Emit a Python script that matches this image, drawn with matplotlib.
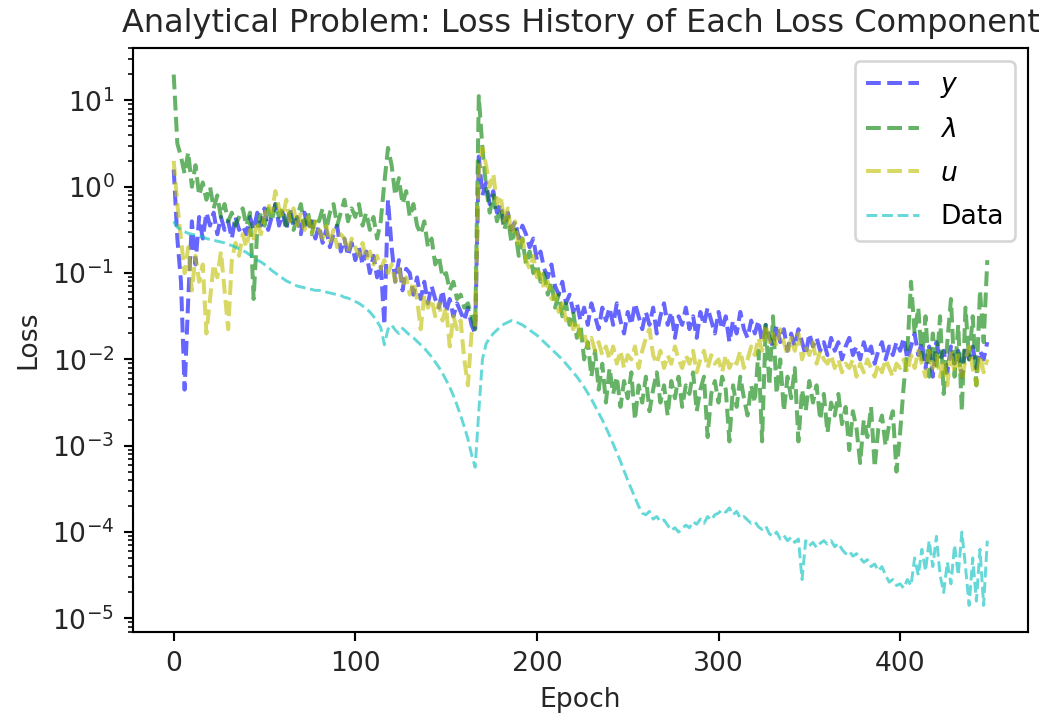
import numpy as np
import matplotlib
matplotlib.use('Agg')
import matplotlib.pyplot as plt

epochs = np.arange(0, 450, 2)

y_log = [0.2, -0.6, -1.1, -2.35, -1.3, -0.4, -0.9, -0.35, -0.6, -0.3,
         -0.45, -0.3, -0.55, -0.35, -0.5, -0.4, -0.6, -0.35, -0.5, -0.45,
         -0.55, -0.35, -0.5, -0.3, -0.45, -0.25, -0.5, -0.35, -0.2, -0.45,
         -0.3, -0.5, -0.25, -0.45, -0.35, -0.55, -0.3, -0.5, -0.4, -0.6,
         -0.45, -0.65, -0.5, -0.7, -0.55, -0.45, -0.75, -0.6, -0.8, -0.65,
         -0.85, -0.7, -0.9, -0.75, -1.0, -0.8, -1.05, -0.9, -1.6, -0.15,
         -0.7, -1.1, -0.85, -1.2, -0.95, -1.0, -1.25, -1.05, -1.3, -1.1,
         -1.35, -1.15, -1.3, -1.4, -1.2, -1.45, -1.3, -1.5, -1.35, -1.45,
         -1.55, -1.4, -1.6, -1.7, 0.35, -0.1, 0.05, -0.2, -0.05, -0.3,
         -0.2, -0.45, -0.3, -0.5, -0.4, -0.6, -0.45, -0.55, -0.7, -0.6,
         -0.85, -0.75, -0.95, -1.05, -0.9, -1.15, -1.25, -1.1, -1.35, -1.25,
         -1.45, -1.35, -1.55, -1.4, -1.6, -1.35, -1.5, -1.65, -1.4, -1.55,
         -1.4, -1.6, -1.35, -1.55, -1.7, -1.45, -1.6, -1.35, -1.5, -1.65,
         -1.45, -1.6, -1.4, -1.7, -1.5, -1.35, -1.6, -1.45, -1.75, -1.5,
         -1.6, -1.4, -1.65, -1.5, -1.75, -1.45, -1.6, -1.4, -1.55, -1.7,
         -1.45, -1.65, -1.5, -1.8, -1.55, -1.7, -1.45, -1.65, -1.75, -1.55,
         -1.7, -1.55, -1.8, -1.6, -1.75, -1.85, -1.6, -1.8, -1.65, -1.9,
         -1.7, -1.85, -1.65, -1.8, -1.95, -1.7, -1.85, -1.75, -1.9, -1.8,
         -1.95, -1.75, -1.9, -1.8, -2.0, -1.85, -1.75, -1.95, -1.85, -2.0,
         -1.8, -1.95, -1.85, -2.05, -1.9, -1.8, -2.0, -1.85, -1.95, -1.8,
         -1.9, -1.75, -2.0, -1.85, -1.7, -1.95, -1.8, -2.1, -1.85, -2.2,
         -1.8, -2.0, -1.9, -2.15, -1.85, -2.05, -1.9, -2.2, -1.85, -2.0,
         -1.85, -2.1, -1.9, -2.0, -1.8]

lam_log = [1.3, 0.5, 0.35, 0.15, 0.4, 0.0, 0.25, -0.1, 0.05, -0.15,
           0.0, -0.25, -0.1, -0.35, -0.2, -0.4, -0.3, -0.45, -0.35, -0.25,
           -0.45, -0.3, -1.3, -0.5, -0.3, -0.45, -0.25, -0.4, -0.2, -0.35,
           -0.25, -0.45, -0.3, -0.5, -0.35, -0.2, -0.45, -0.3, -0.55, -0.35,
           -0.4, -0.25, -0.5, -0.3, -0.2, -0.45, -0.3, -0.15, -0.4, -0.25,
           -0.35, -0.2, -0.45, -0.3, -0.5, -0.35, -0.6, -0.4, 0.05, 0.45,
           0.25, -0.1, 0.1, -0.2, -0.05, -0.35, -0.2, -0.45, -0.55, -0.4,
           -0.7, -0.6, -0.9, -0.8, -1.05, -1.0, -1.2, -1.1, -1.3, -1.25,
           -1.4, -1.35, -1.5, -1.65, 1.05, 0.45, 0.0, -0.3, -0.1, -0.4,
           -0.25, -0.5, -0.35, -0.65, -0.5, -0.8, -0.6, -0.9, -0.75, -1.0,
           -0.9, -1.1, -1.0, -1.25, -1.1, -1.4, -1.25, -1.5, -1.35, -1.6,
           -1.45, -1.75, -1.6, -2.0, -1.8, -2.2, -1.9, -2.35, -2.05, -2.5,
           -2.1, -2.4, -2.2, -2.55, -2.25, -2.45, -2.15, -2.7, -2.3, -2.5,
           -2.2, -2.6, -2.35, -2.15, -2.5, -2.3, -2.65, -2.25, -2.45, -2.2,
           -2.55, -2.3, -2.4, -2.15, -2.6, -2.35, -2.2, -2.9, -2.4, -2.25,
           -2.5, -2.2, -2.35, -2.95, -2.3, -2.55, -2.2, -2.45, -2.65, -2.3,
           -2.5, -1.9, -2.95, -1.6, -2.3, -1.5, -2.4, -2.0, -2.6, -2.2,
           -2.45, -2.1, -2.95, -2.35, -2.6, -2.25, -2.5, -2.3, -2.7, -2.4,
           -2.85, -2.5, -2.65, -2.4, -2.75, -2.55, -3.05, -2.6, -2.8, -3.2,
           -2.7, -2.9, -2.55, -3.25, -2.8, -2.65, -3.0, -2.75, -2.6, -3.3,
           -2.85, -2.3, -1.9, -1.1, -1.7, -1.4, -2.0, -1.5, -2.2, -1.7,
           -2.1, -1.5, -2.4, -1.8, -1.3, -2.2, -1.6, -2.6, -1.4, -2.0,
           -1.5, -2.3, -1.2, -1.8, -0.85]

u_log = [0.3, -0.2, -0.6, -1.0, -0.7, -1.2, -0.8, -1.1, -0.9, -1.7,
         -1.3, -0.9, -1.05, -0.75, -1.2, -1.65, -0.85, -0.65, -0.8, -0.55,
         -0.7, -0.5, -0.6, -0.4, -0.55, -0.35, -0.2, -0.3, -0.05, -0.25,
         -0.35, -0.15, -0.4, -0.25, -0.45, -0.3, -0.5, -0.35, -0.55, -0.4,
         -0.5, -0.6, -0.45, -0.65, -0.5, -0.7, -0.55, -0.6, -0.75, -0.6,
         -0.7, -0.8, -0.65, -0.85, -0.75, -0.9, -0.8, -0.95, -0.85, -1.0,
         -0.9, -1.1, -0.95, -1.15, -1.05, -1.25, -1.1, -1.3, -1.65, -1.25,
         -1.4, -1.3, -1.5, -1.35, -1.55, -1.4, -1.85, -1.5, -1.65, -1.55,
         -2.0, -2.3, -1.7, -1.6, 0.2, 0.45, 0.25, 0.0, 0.15, -0.2,
         -0.1, -0.4, -0.25, -0.55, -0.4, -0.7, -0.6, -0.85, -0.95, -0.8,
         -1.05, -0.95, -1.2, -1.1, -1.3, -1.25, -1.45, -1.35, -1.55, -1.5,
         -1.65, -1.55, -1.75, -1.7, -1.85, -1.75, -1.9, -1.8, -1.95, -1.85,
         -2.0, -1.85, -2.05, -1.9, -2.1, -1.95, -2.0, -1.85, -2.1, -1.9,
         -1.75, -1.65, -1.95, -2.05, -1.9, -2.1, -1.95, -2.05, -1.85, -2.0,
         -2.1, -1.95, -2.05, -1.9, -2.15, -2.0, -1.9, -2.1, -1.95, -2.05,
         -2.0, -2.15, -1.95, -2.1, -2.0, -2.05, -1.9, -2.1, -2.0, -1.85,
         -1.95, -1.75, -1.9, -1.6, -1.8, -1.7, -1.85, -1.65, -1.8, -1.95,
         -1.75, -1.9, -1.7, -2.0, -1.85, -1.95, -1.8, -2.05, -1.9, -2.0,
         -2.05, -1.95, -2.1, -2.0, -2.15, -2.05, -2.1, -2.0, -2.2, -2.05,
         -2.15, -2.0, -2.1, -2.2, -2.05, -2.15, -2.0, -2.1, -2.2, -2.05,
         -2.1, -2.0, -2.15, -1.95, -2.1, -1.9, -2.05, -2.2, -1.9, -2.1,
         -1.95, -2.2, -2.0, -2.3, -1.9, -2.15, -1.95, -2.25, -2.0, -1.85,
         -2.1, -2.3, -1.95, -2.15, -2.0]

data_log = [-0.4, -0.47, -0.5, -0.52, -0.54, -0.55, -0.56, -0.57, -0.58, -0.6,
            -0.61, -0.62, -0.63, -0.64, -0.65, -0.67, -0.68, -0.7, -0.72, -0.74,
            -0.76, -0.79, -0.82, -0.85, -0.87, -0.9, -0.93, -0.97, -1.0, -1.03,
            -1.06, -1.09, -1.11, -1.13, -1.15, -1.16, -1.17, -1.18, -1.19, -1.2,
            -1.2, -1.21, -1.22, -1.23, -1.24, -1.25, -1.26, -1.28, -1.29, -1.31,
            -1.33, -1.35, -1.38, -1.41, -1.45, -1.5, -1.56, -1.63, -1.83, -1.65,
            -1.6, -1.66, -1.7, -1.64, -1.68, -1.72, -1.75, -1.79, -1.83, -1.87,
            -1.92, -1.97, -2.03, -2.09, -2.16, -2.24, -2.32, -2.42, -2.53, -2.65,
            -2.78, -2.92, -3.1, -3.25, -2.6, -2.0, -1.82, -1.75, -1.7, -1.66,
            -1.62, -1.59, -1.57, -1.55, -1.56, -1.58, -1.6, -1.63, -1.66, -1.69,
            -1.72, -1.76, -1.8, -1.84, -1.88, -1.92, -1.96, -2.0, -2.05, -2.1,
            -2.15, -2.2, -2.26, -2.32, -2.39, -2.46, -2.54, -2.62, -2.7, -2.79,
            -2.88, -2.98, -3.08, -3.18, -3.29, -3.4, -3.5, -3.6, -3.7, -3.78,
            -3.8, -3.76, -3.85, -3.82, -3.88, -3.86, -3.92, -3.98, -3.95, -4.0,
            -3.96, -3.92, -3.95, -3.88, -3.91, -3.85, -3.9, -3.82, -3.86, -3.8,
            -3.78, -3.74, -3.77, -3.72, -3.8, -3.76, -3.84, -3.82, -3.86, -3.9,
            -3.88, -3.94, -3.97, -3.93, -4.02, -4.05, -4.0, -4.08, -4.04, -4.1,
            -4.06, -4.12, -4.08, -4.55, -4.1, -4.16, -4.12, -4.18, -4.13, -4.1,
            -4.14, -4.1, -4.17, -4.13, -4.2, -4.25, -4.22, -4.28, -4.25, -4.3,
            -4.35, -4.32, -4.4, -4.37, -4.45, -4.4, -4.5, -4.58, -4.55, -4.62,
            -4.6, -4.65, -4.55, -4.62, -4.3, -4.5, -4.2, -4.45, -4.1, -4.4,
            -4.05, -4.5, -4.7, -4.35, -4.6, -4.15, -4.5, -4.0, -4.4, -4.85,
            -4.3, -4.8, -4.2, -4.85, -4.1]

labels = ['$y$', '$\\lambda$', '$u$', 'Data']
decades = 10.0 ** np.arange(-5, 2)

fig = plt.figure(figsize=(1050 / 192, 723 / 192), dpi=192)
ax = fig.add_axes([0.1267, 0.1259, 0.8523, 0.8077])

ax.plot(epochs, 10 ** np.array(y_log), '--', c='b', alpha=0.6, lw=1.5, label=labels[0])
ax.plot(epochs, 10 ** np.array(lam_log), '--', c='g', alpha=0.6, lw=1.5, label=labels[1])
ax.plot(epochs, 10 ** np.array(u_log), '--', c='y', alpha=0.6, lw=1.5, label=labels[2])
ax.plot(epochs, 10 ** np.array(data_log), '--', c='c', alpha=0.6, lw=1.1, label=labels[3])

ax.set_yscale('log')
ax.set_yticks(decades)
ax.set_xlabel('Epoch', color='#262626')
ax.set_ylabel('Loss', color='#262626')
ax.tick_params(labelcolor='#262626')
ax.set_title('Analytical Problem: Loss History of Each Loss Component', fontsize=12,
             color='#262626')
ax.legend(loc='upper right', labelspacing=0.65)

plt.savefig('out.png', dpi=192)
